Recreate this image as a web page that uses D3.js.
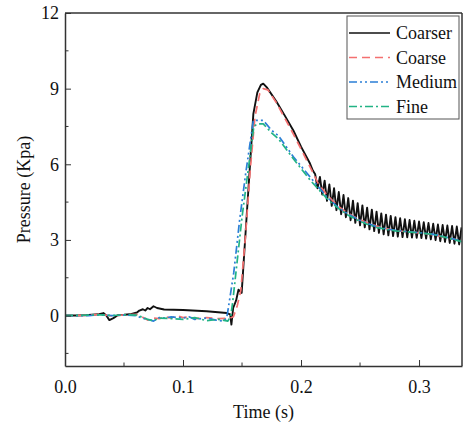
<!DOCTYPE html>
<html>
<head>
<meta charset="utf-8">
<script src="https://cdn.jsdelivr.net/npm/d3@7"></script>
<style>
  body { margin: 0; background: #fff; }
  svg text { font-family: "Liberation Serif", "Times New Roman", serif; fill: #111; }
</style>
</head>
<body>
<svg id="chart" width="465" height="423" font-family="Liberation Serif"></svg>
<script>
// series names and colours
const seriesNames = ["Coarser", "Coarse", "Medium", "Fine"];
const seriesColors = ["#111111", "#f47070", "#2b7fd6", "#22b385"];
const seriesDash = [null, "8,5", "8,3,2,3,2,3", "8,3,2,3"];

const xTicks = [0.0, 0.1, 0.2, 0.3];
const xMinor = [0.05, 0.15, 0.25];
const yTicks = [0, 3, 6, 9, 12];
const yMinor = [-1.5, 1.5, 4.5, 7.5, 10.5];

// Coarser (black) - time (s), pressure (Kpa)
const coarser = [
  [0, 0], [0.01, 0.0], [0.02, 0.02], [0.028, 0.05], [0.0325, 0.1], [0.035, 0.0], [0.0376, -0.18],
  [0.041, -0.1], [0.045, 0.02], [0.05, 0.03], [0.055, 0.05], [0.061, 0.12], [0.063, 0.2], [0.066, 0.25],
  [0.068, 0.2], [0.07, 0.3], [0.072, 0.25], [0.075, 0.37], [0.078, 0.3], [0.084, 0.24], [0.1, 0.22],
  [0.12, 0.17], [0.137, 0.1], [0.14, 0.05], [0.141, -0.36], [0.1425, 0.3], [0.145, 0.6], [0.147, 1.03],
  [0.1497, 0.9], [0.154, 4.0], [0.1596, 8.0], [0.163, 8.85], [0.166, 9.15], [0.168, 9.2],
  [0.171, 9.05], [0.179, 8.5], [0.186, 7.95], [0.1935, 7.34], [0.2, 6.7], [0.2076, 6.03], [0.21, 5.75],
  [0.212, 5.6], [0.214, 5.05], [0.216, 5.5], [0.218, 4.8], [0.22, 5.35], [0.222, 4.55],
  [0.224, 5.2], [0.226, 4.35], [0.228, 5.05], [0.23, 4.18], [0.232, 4.9], [0.234, 4.02],
  [0.236, 4.78], [0.238, 3.9], [0.24, 4.66], [0.242, 3.78], [0.244, 4.56], [0.246, 3.68],
  [0.248, 4.46], [0.25, 3.58], [0.252, 4.37], [0.254, 3.5], [0.256, 4.28], [0.258, 3.42],
  [0.26, 4.2], [0.262, 3.35], [0.264, 4.12], [0.266, 3.28], [0.268, 4.05], [0.27, 3.22],
  [0.272, 4.0], [0.274, 3.18], [0.276, 3.95], [0.278, 3.15], [0.28, 3.9], [0.282, 3.13],
  [0.284, 3.86], [0.286, 3.11], [0.288, 3.82], [0.29, 3.1], [0.292, 3.79], [0.294, 3.09],
  [0.296, 3.76], [0.298, 3.08], [0.3, 3.73], [0.302, 3.07], [0.304, 3.7], [0.306, 3.05],
  [0.308, 3.67], [0.31, 3.02], [0.312, 3.64], [0.314, 2.99], [0.316, 3.61], [0.318, 2.95],
  [0.32, 3.59], [0.322, 2.92], [0.324, 3.57], [0.326, 2.88], [0.328, 3.55], [0.33, 2.85],
  [0.332, 3.53], [0.334, 2.82], [0.336, 3.5]
];

// Coarse (red dashed)
const coarse = [
  [0, 0], [0.02, 0.01], [0.03, 0.05], [0.04, -0.02], [0.05, 0.03], [0.06, 0.05], [0.065, -0.05],
  [0.07, -0.18], [0.075, -0.1], [0.08, -0.12], [0.085, -0.05], [0.09, -0.1], [0.095, 0.0],
  [0.1, -0.08], [0.105, -0.05], [0.11, -0.12], [0.12, -0.08], [0.13, -0.12], [0.14, -0.1],
  [0.1427, -0.05], [0.146, 0.4], [0.149, 1.0], [0.153, 3.2], [0.157, 5.8], [0.161, 7.9], [0.165, 8.8],
  [0.168, 9.0], [0.172, 8.95], [0.179, 8.45], [0.186, 7.85], [0.1935, 7.2], [0.2, 6.6], [0.2076, 5.9],
  [0.215, 5.2], [0.2218, 4.8], [0.231, 4.35], [0.24, 4.05], [0.248, 3.85], [0.256, 3.68],
  [0.264, 3.55], [0.272, 3.45], [0.28, 3.38], [0.29, 3.32], [0.3, 3.28], [0.31, 3.22], [0.32, 3.12],
  [0.328, 3.04], [0.336, 2.98]
];

// Medium (blue dash-dot-dot)
const medium = [
  [0, 0], [0.02, 0.0], [0.03, 0.03], [0.04, 0.0], [0.05, 0.02], [0.06, 0.0], [0.065, -0.1],
  [0.07, -0.15], [0.075, -0.22], [0.08, -0.08], [0.085, -0.1], [0.09, -0.05], [0.1, -0.1],
  [0.105, -0.05], [0.11, -0.15], [0.12, -0.1], [0.128, -0.18], [0.134, -0.22], [0.137, -0.1],
  [0.1384, 0.3], [0.143, 1.7], [0.148, 3.8], [0.153, 5.6], [0.1596, 7.74], [0.168, 7.74],
  [0.175, 7.35], [0.1807, 7.14], [0.1935, 6.3], [0.2076, 5.5], [0.2218, 4.71], [0.231, 4.31],
  [0.24, 4.02], [0.248, 3.82], [0.256, 3.66], [0.264, 3.53], [0.272, 3.44], [0.28, 3.38],
  [0.29, 3.33], [0.3, 3.29], [0.31, 3.24], [0.32, 3.14], [0.328, 3.05], [0.336, 2.96]
];

// Fine (green dash-dot)
const fine = [
  [0, 0], [0.02, 0.02], [0.03, 0.03], [0.04, 0.0], [0.05, 0.03], [0.06, 0.02], [0.065, -0.05],
  [0.07, -0.15], [0.075, -0.2], [0.08, -0.1], [0.09, -0.12], [0.1, -0.15], [0.11, -0.08],
  [0.12, -0.2], [0.13, -0.15], [0.138, -0.22], [0.1405, 0.0], [0.142, 0.5], [0.15, 3.9],
  [0.16, 7.5], [0.163, 7.6], [0.168, 7.6], [0.175, 7.25], [0.181, 7.0], [0.1935, 6.22],
  [0.2076, 5.38], [0.2218, 4.65], [0.231, 4.27], [0.24, 3.98], [0.248, 3.78], [0.256, 3.62],
  [0.264, 3.5], [0.272, 3.42], [0.28, 3.36], [0.29, 3.32], [0.3, 3.28], [0.31, 3.23], [0.32, 3.13],
  [0.328, 3.03], [0.336, 2.93]
];

const allSeries = [coarser, coarse, medium, fine];

const svg = d3.select("#chart");
const margin = {top: 13, right: 3, bottom: 57, left: 65};
const width = 465 - margin.left - margin.right;
const height = 423 - margin.top - margin.bottom;
const fontSize = 18;
const serif = "Liberation Serif, Times New Roman, serif";

const x = d3.scaleLinear().domain([0, 0.3364]).range([0, width]);
const y = d3.scaleLinear().domain([-2, 12]).range([height, 0]);

const g = svg.append("g")
    .attr("transform", "translate(" + margin.left + "," + margin.top + ")");

g.append("defs").append("clipPath")
    .attr("id", "clip")
    .append("rect")
    .attr("width", width)
    .attr("height", height);

// lines
const line = d3.line().x(d => x(d[0])).y(d => y(d[1]));
const plot = g.append("g").attr("clip-path", "url(#clip)");
// black first, coloured on top of it like the original
[0, 1, 2, 3].forEach(i => {
    plot.append("path")
        .datum(allSeries[i])
        .attr("fill", "none")
        .attr("stroke", seriesColors[i])
        .attr("stroke-width", i === 0 ? 1.9 : 1.7)
        .attr("stroke-dasharray", seriesDash[i])
        .attr("stroke-linejoin", "round")
        .attr("d", line);
});

// axes (ticks inward)
const xAxis = g.append("g")
    .attr("transform", "translate(0," + height + ")")
    .call(d3.axisBottom(x).tickValues(xTicks).tickSizeInner(-6).tickSizeOuter(0)
        .tickPadding(14).tickFormat(d3.format(".1f")));
xAxis.attr("font-family", serif).attr("font-size", fontSize);

xAxis.selectAll(".minor").data(xMinor).enter().append("line")
    .attr("x1", d => x(d)).attr("x2", d => x(d))
    .attr("y1", 0).attr("y2", -3.5)
    .attr("stroke", "#333");

const yAxis = g.append("g")
    .call(d3.axisLeft(y).tickValues(yTicks).tickSizeInner(-6).tickSizeOuter(0)
        .tickPadding(6));
yAxis.attr("font-family", serif).attr("font-size", fontSize);

yAxis.selectAll(".minor").data(yMinor).enter().append("line")
    .attr("y1", d => y(d)).attr("y2", d => y(d))
    .attr("x1", 0).attr("x2", 3.5)
    .attr("stroke", "#333");

g.selectAll(".domain").attr("stroke", "#333").attr("stroke-width", 1.5);
g.selectAll(".tick line").attr("stroke", "#333");

// frame top / right
g.append("line").attr("x1", 0).attr("x2", width).attr("y1", 0).attr("y2", 0)
    .attr("stroke", "#333").attr("stroke-width", 1.5);
g.append("line").attr("x1", width).attr("x2", width).attr("y1", 0).attr("y2", height)
    .attr("stroke", "#333").attr("stroke-width", 1.5);

// axis titles
svg.append("text")
    .attr("x", margin.left + width / 2)
    .attr("y", 418)
    .attr("text-anchor", "middle")
    .attr("font-size", fontSize)
    .text("Time (s)");

svg.append("text")
    .attr("transform", "translate(30," + (margin.top + height / 2) + ") rotate(-90)")
    .attr("text-anchor", "middle")
    .attr("font-size", fontSize)
    .text("Pressure (Kpa)");

// legend
const legend = g.append("g").attr("transform", "translate(282,3)");
legend.append("rect")
    .attr("width", 112).attr("height", 103)
    .attr("fill", "#fff").attr("stroke", "#555").attr("stroke-width", 1);
seriesNames.forEach((name, i) => {
    const ly = 17 + i * 24.5;
    legend.append("line")
        .attr("x1", 2).attr("x2", 43).attr("y1", ly).attr("y2", ly)
        .attr("stroke", seriesColors[i])
        .attr("stroke-width", 1.7)
        .attr("stroke-dasharray", seriesDash[i]);
    legend.append("text")
        .attr("x", 49).attr("y", ly)
        .attr("dy", "0.35em")
        .attr("font-size", fontSize)
        .text(name);
});
</script>
</body>
</html>
